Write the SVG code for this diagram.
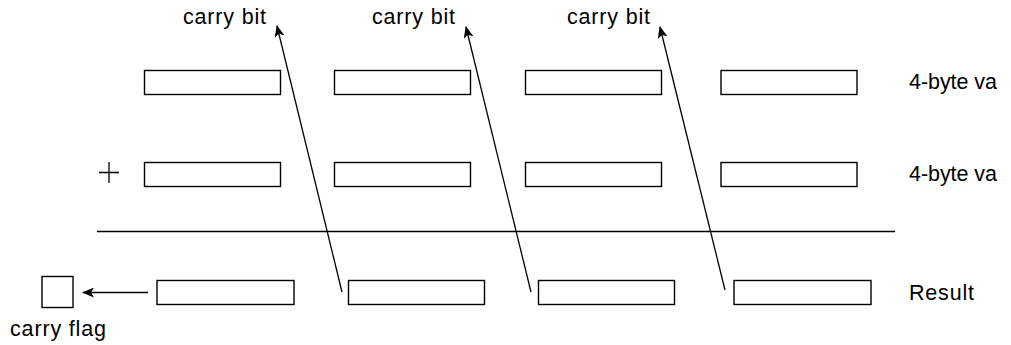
<svg xmlns="http://www.w3.org/2000/svg" width="1011" height="345" viewBox="0 0 1011 345">
<defs>
<marker id="ah" markerWidth="12" markerHeight="10" refX="11" refY="5" orient="auto" markerUnits="userSpaceOnUse">
<path d="M0,0 L12,5 L0,10 L3,5 Z" fill="#000"/>
</marker>
<style>
.box{fill:#fff;stroke:#000;stroke-width:1.4}
.ln{stroke:#000;stroke-width:1.3;fill:none}
.t{font-family:"Liberation Sans",Arial,sans-serif;font-size:21.5px;fill:#000}
</style>
</defs>
<rect width="1011" height="345" fill="#fff"/>
<g id="row1">
<rect class="box" x="144.5" y="70.5" width="136" height="24"/>
<rect class="box" x="334.5" y="70.5" width="136" height="24"/>
<rect class="box" x="525.5" y="70.5" width="136" height="24"/>
<rect class="box" x="721" y="70.5" width="136" height="24"/>
<text class="t" x="909" y="89" textLength="88" lengthAdjust="spacing">4-byte va</text>
</g>
<g id="row2">
<path class="ln" d="M99,172.5 H119 M109,162 V183"/>
<rect class="box" x="144.5" y="162.5" width="136" height="24"/>
<rect class="box" x="334.5" y="162.5" width="136" height="24"/>
<rect class="box" x="525.5" y="162.5" width="136" height="24"/>
<rect class="box" x="721" y="162.5" width="136" height="24"/>
<text class="t" x="909" y="181" textLength="88" lengthAdjust="spacing">4-byte va</text>
</g>
<g id="sumline">
<line class="ln" x1="97" y1="231.5" x2="895" y2="231.5"/>
</g>
<g id="row3">
<rect class="box" x="157" y="280.5" width="137" height="24"/>
<rect class="box" x="348.5" y="280.5" width="136" height="24"/>
<rect class="box" x="538.5" y="280.5" width="136" height="24"/>
<rect class="box" x="734" y="280.5" width="137" height="24"/>
<text class="t" x="909" y="300" textLength="65" lengthAdjust="spacing">Result</text>
</g>
<g id="carryflag">
<rect class="box" x="42" y="276.5" width="31" height="31"/>
<text class="t" x="10" y="336" textLength="96" lengthAdjust="spacing">carry flag</text>
</g>
<g id="labels">
<text class="t" x="183" y="24" textLength="83" lengthAdjust="spacing">carry bit</text>
<text class="t" x="372" y="24" textLength="83" lengthAdjust="spacing">carry bit</text>
<text class="t" x="567" y="24" textLength="83" lengthAdjust="spacing">carry bit</text>
</g>
<g id="connectors">
<line class="ln" x1="342" y1="292" x2="277" y2="26" marker-end="url(#ah)"/>
<line class="ln" x1="531" y1="292" x2="466" y2="27" marker-end="url(#ah)"/>
<line class="ln" x1="725" y1="290" x2="660" y2="27" marker-end="url(#ah)"/>
<line class="ln" x1="148" y1="292.5" x2="83" y2="292.5" marker-end="url(#ah)"/>
</g>
</svg>
